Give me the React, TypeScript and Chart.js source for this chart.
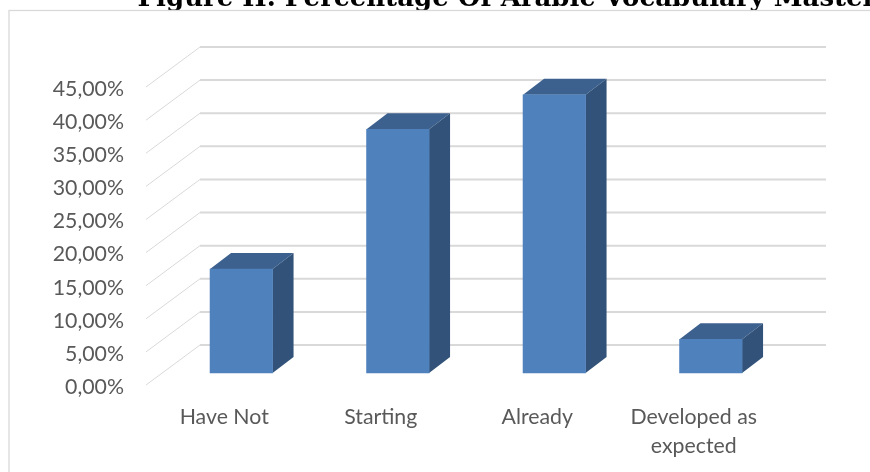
import React, { useEffect, useRef } from "react";
import { Chart, registerables } from "chart.js";

Chart.register(...registerables);

const categories = ["Have Not", "Starting", "Already", ["Developed as", "expected"]];
const values = [15.7, 36.8, 42, 5.1];
const titleText = "Figure II. Percentage Of Arabic Vocabulary Mastery";

const W = 1029;
const H = 472;
const LABEL_SHIFT = 2;
const DEPTH_GRID_X = 54;
const DEPTH_GRID_Y = 40;
const GRID_LEN = 626;
const BAR_DX = 21;
const BAR_DY = 16;

const depthPlugin = {
  id: "depth",
  beforeDatasetsDraw(chart: any) {
    const { ctx, scales } = chart;
    const y = scales.y;
    const left = chart.chartArea.left;
    ctx.save();
    ctx.strokeStyle = "#d9d9d9";
    ctx.lineWidth = 1.3;
    ctx.strokeRect(9, 10.5, 1200, 600);
    y.ticks.forEach((t: any) => {
      const py = y.getPixelForValue(t.value) - LABEL_SHIFT;
      ctx.lineWidth = 1;
      ctx.beginPath();
      ctx.moveTo(left, py);
      ctx.lineTo(left + DEPTH_GRID_X, py - DEPTH_GRID_Y);
      ctx.stroke();
      ctx.lineWidth = 2;
      ctx.beginPath();
      ctx.moveTo(left + DEPTH_GRID_X, py - DEPTH_GRID_Y);
      ctx.lineTo(left + DEPTH_GRID_X + GRID_LEN, py - DEPTH_GRID_Y);
      ctx.stroke();
    });
    const meta = chart.getDatasetMeta(0);
    meta.data.forEach((bar: any) => {
      const l = bar.x - bar.width / 2;
      const r = bar.x + bar.width / 2;
      const top = bar.y;
      const base = bar.base;
      ctx.fillStyle = "#3c618f";
      ctx.beginPath();
      ctx.moveTo(l, top);
      ctx.lineTo(l + BAR_DX, top - BAR_DY);
      ctx.lineTo(r + BAR_DX, top - BAR_DY);
      ctx.lineTo(r, top);
      ctx.closePath();
      ctx.fill();
      ctx.fillStyle = "#325279";
      ctx.beginPath();
      ctx.moveTo(r, top);
      ctx.lineTo(r + BAR_DX, top - BAR_DY);
      ctx.lineTo(r + BAR_DX, base - BAR_DY);
      ctx.lineTo(r, base);
      ctx.closePath();
      ctx.fill();
    });
    ctx.restore();
  },
};

export default function App() {
  const ref = useRef<HTMLCanvasElement>(null);
  useEffect(() => {
    const chart = new Chart(ref.current!, {
      type: "bar",
      plugins: [depthPlugin],
      data: {
        labels: categories as any,
        datasets: [
          {
            data: values.map((v, i) => ({ x: i, y: v })) as any,
            backgroundColor: "#4f81bd",
            barThickness: 62.5,
            xAxisID: "xBars",
            yAxisID: "yBars",
          },
        ],
      },
      options: {
        responsive: false,
        animation: false,
        layout: { padding: { top: 89, right: 0, left: 0, bottom: 0 } },
        plugins: {
          legend: { display: false },
          tooltip: { enabled: false },
          title: {
            display: true,
            text: titleText,
            color: "#000",
            align: "center",
            font: { family: "'DejaVu Serif'", weight: "bold", size: 26, lineHeight: 1 },
            padding: { top: -102.5, bottom: 76.5 },
          },
        },
        scales: {
          x: {
            type: "category",
            grid: { display: false },
            border: { display: false },
            ticks: {
              color: "#595959",
              font: { family: "Lato", size: 21.3, lineHeight: 1.35 },
              maxRotation: 0,
              autoSkip: false,
              padding: 8,
            },
            afterFit: (s: any) => { s.height = 85; },
          },
          y: {
            min: 0,
            max: 45,
            position: "left",
            grid: { display: false },
            border: { display: false },
            ticks: {
              stepSize: 5,
              color: "#595959",
              font: { family: "Lato", size: 21.3 },
              padding: 14,
              callback: (v: any) => Number(v).toFixed(2).replace(".", ",") + "%",
            },
            afterFit: (s: any) => { s.width = 146; },
          },
          xBars: { type: "linear", display: false, offset: false, min: -0.609, max: 3.391 },
          yBars: {
            type: "linear",
            position: "right",
            min: -2.114,
            max: 42.886,
            grid: { display: false },
            border: { display: false },
            ticks: { display: false },
            afterFit: (s: any) => { s.width = W - 772; },
          },
        },
      },
    } as any);
    return () => chart.destroy();
  }, []);
  return (
    <div style={{ position: "fixed", left: 0, top: 0, width: 870, height: 472, overflow: "hidden", background: "#fff" }}>
      <canvas ref={ref} width={W} height={H} style={{ display: "block" }} />
    </div>
  );
}
